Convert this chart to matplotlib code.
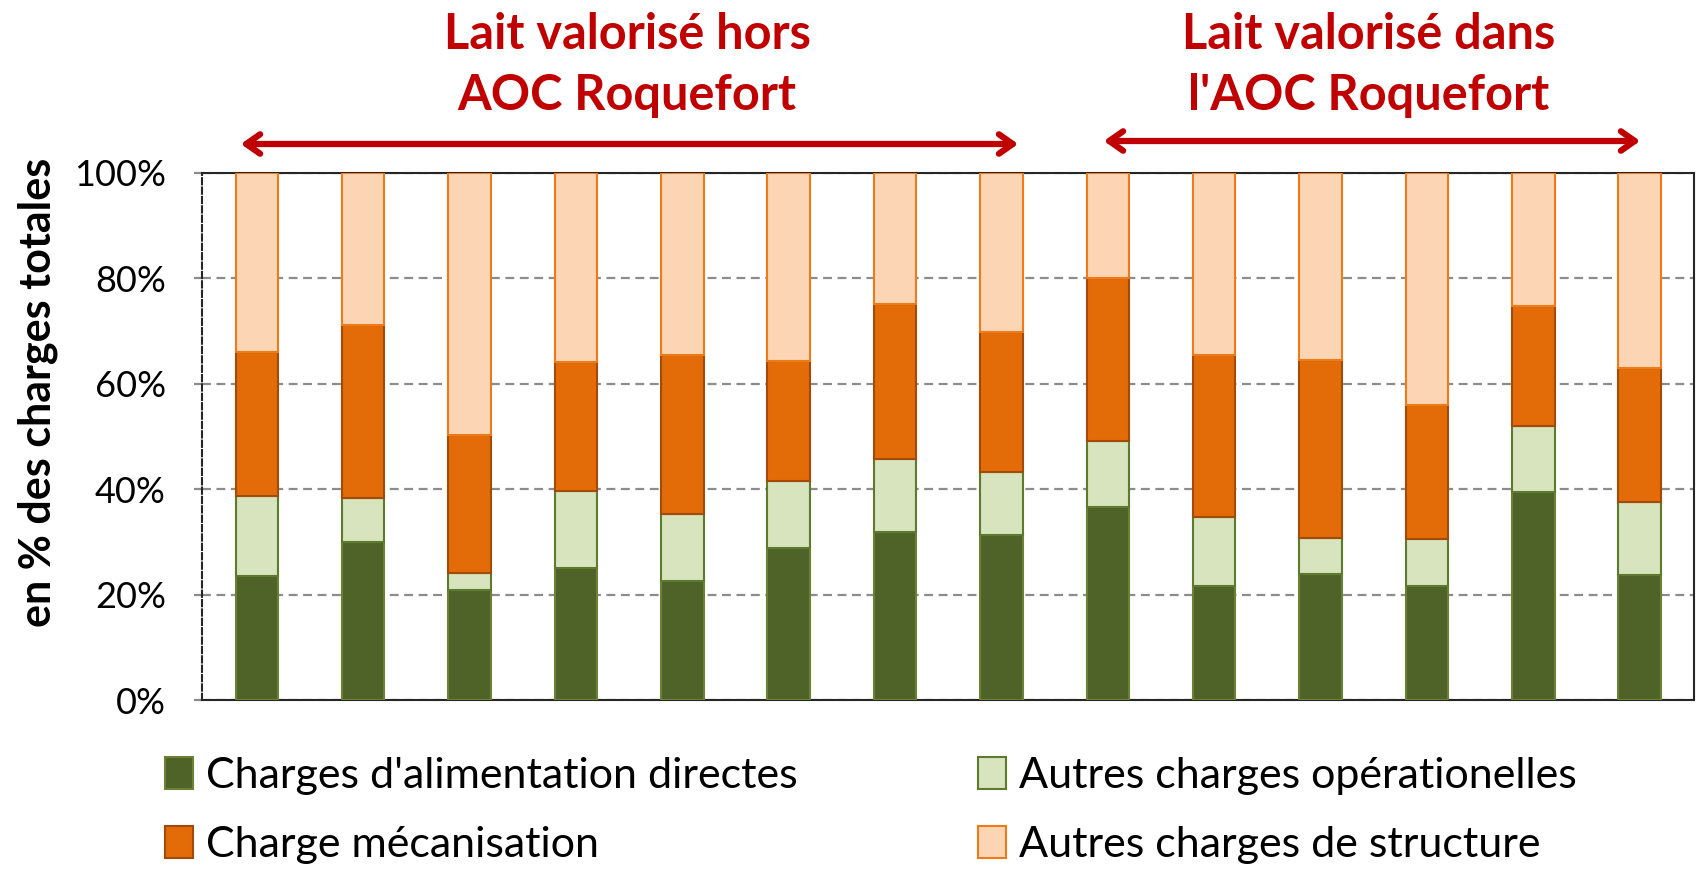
import matplotlib
matplotlib.use("Agg")
import matplotlib.pyplot as plt
from matplotlib.patches import Patch, FancyArrowPatch
import numpy as np

plt.rcParams['font.family'] = ['Lato', 'DejaVu Sans']

# Data (cumulative tops, in %)
alim = [23.6, 29.9, 20.9, 25.0, 22.5, 28.9, 31.8, 31.4, 36.7, 21.6, 24.0, 21.7, 39.4, 23.8]
top_autres_op = [38.7, 38.4, 24.1, 39.7, 35.2, 41.5, 45.7, 43.3, 49.1, 34.7, 30.8, 30.5, 51.9, 37.5]
top_meca = [66.1, 71.1, 50.3, 64.2, 65.4, 64.4, 75.2, 69.9, 80.0, 65.5, 64.5, 55.9, 74.7, 63.0]

autres_op = [t - a for t, a in zip(top_autres_op, alim)]
meca = [m - t for m, t in zip(top_meca, top_autres_op)]
structure = [100 - m for m in top_meca]

series_names = ["Charges d'alimentation directes", "Autres charges opérationelles",
                "Charge mécanisation", "Autres charges de structure"]
group_titles = ["Lait valorisé hors\nAOC Roquefort", "Lait valorisé dans\nl'AOC Roquefort"]
yticks = [0, 20, 40, 60, 80, 100]
ytick_labels = ["0%", "20%", "40%", "60%", "80%", "100%"]

colors = ['#4F6228', '#D7E4BD', '#E36C09', '#FCD5B5']
edges = ['#6B8136', '#5E7A2E', '#A24B08', '#EE7A1A']

W, H = 1698, 869
fig = plt.figure(figsize=(W/100, H/100), dpi=100)
ax = fig.add_axes([202/W, 1-700/H, (1694-202)/W, (700-173)/H])

x = np.arange(len(alim))
w = 0.40
bottoms = np.zeros(len(alim))
for vals, c, e, name in zip([alim, autres_op, meca, structure], colors, edges, series_names):
    ax.bar(x, vals, w, bottom=bottoms, color=c, edgecolor=e, linewidth=1.5, label=name, zorder=3)
    bottoms = bottoms + np.array(vals)

ax.set_xlim(-0.515, len(alim) - 1 + 0.51)
ax.set_ylim(0, 100)
ax.set_yticks(yticks)
ax.set_yticklabels(ytick_labels, fontsize=26)
ax.set_xticks([])
ax.yaxis.grid(True, color='#8C8C8C', linestyle=(0, (4, 2.5)), linewidth=1.6, zorder=0)
ax.tick_params(axis='y', length=6, width=1.6, color='#8C8C8C', pad=20)
for s in ['top', 'right', 'bottom']:
    ax.spines[s].set_color('#262626')
    ax.spines[s].set_linewidth(1.5)
ax.spines['left'].set_linestyle((0, (3, 1.5)))
ax.spines['left'].set_color('#262626')
ax.spines['left'].set_linewidth(1.5)

ax.set_ylabel("en % des charges totales", fontsize=31, fontweight='bold', va='center')
ax.yaxis.set_label_coords((38-202)/1492, (700-392)/527)

# group titles and arrows
red = '#C00000'
fig.text(627/W, 1-65/H, group_titles[0], ha='center', va='center', fontsize=35,
         fontweight='bold', color=red, linespacing=1.42)
fig.text(1369/W, 1-65/H, group_titles[1], ha='center', va='center', fontsize=35,
         fontweight='bold', color=red, linespacing=1.42)
for (x0, x1, yy) in [(238, 1021, 144), (1101, 1643, 141)]:
    fig.patches.append(FancyArrowPatch(
        (x0/W, 1-yy/H), (x1/W, 1-yy/H), transform=fig.transFigure,
        arrowstyle='<->,head_length=10,head_width=7', color=red, linewidth=4.5))

order = [0, 2, 1, 3]
leg_handles = [Patch(facecolor=colors[i], edgecolor=edges[i], linewidth=1.5) for i in order]
leg_labels = [series_names[i] for i in order]
fig.legend(leg_handles, leg_labels, loc='upper left', bbox_to_anchor=(165/W, 1-757/H),
           ncol=2, frameon=False, fontsize=31, handlelength=0.65, handleheight=0.75,
           handletextpad=0.3, columnspacing=4.2, labelspacing=0.72, borderaxespad=0,
           borderpad=0)

fig.savefig('out.png', dpi=100)
